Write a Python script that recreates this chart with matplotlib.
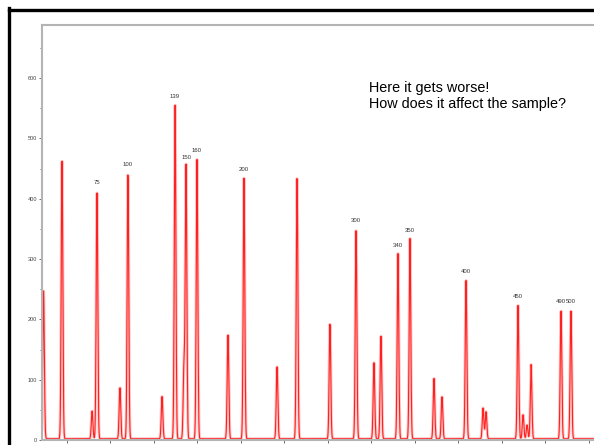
import numpy as np
import matplotlib
matplotlib.use("Agg")
import matplotlib.pyplot as plt
from matplotlib.lines import Line2D

# Electropherogram peaks: scan position and fluorescence height
peak_pos = [1618, 1724, 1897, 1925, 2057, 2103, 2299, 2374, 2425,
            2437, 2500, 2678, 2770, 2960, 3075, 3264, 3414, 3517, 3557,
            3655, 3724, 3862, 3908, 4046, 4144, 4161, 4345, 4374, 4397,
            4420, 4592, 4649]
peak_height = [245, 463, 46, 410, 85, 440, 70, 553, 120,
               452, 463, 173, 432, 120, 434, 191, 347, 126, 171,
               307, 332, 100, 70, 264, 51, 45, 221, 40, 23,
               123, 213, 213]

# Size-standard labels (bp) placed over their peaks
size_labels = ["75", "100", "139", "150", "160", "200", "300", "340",
               "350", "400", "450", "490", "500"]
size_label_pos = [1925, 2103, 2374, 2437, 2500, 2770, 3414, 3655,
                  3724, 4046, 4345, 4592, 4649]
size_label_height = [410, 440, 553, 452, 463, 432, 347, 307,
                     332, 264, 221, 213, 213]

x_ticks = [2000, 2500, 3000, 3500, 4000, 4500]
y_ticks = [0, 100, 200, 300, 400, 500, 600]

W, H = 594, 445
fig = plt.figure(figsize=(W / 100, H / 100), dpi=100)
ax = fig.add_axes([42 / W, 5 / H, (600 - 42) / W, 415 / H])

# Build the trace as a sum of narrow peaks on a flat baseline
x = np.arange(1600, 4830, 1.5)
y = np.full_like(x, 2.0)
sigma = 4.5
for p, h in zip(peak_pos, peak_height):
    y += h * np.exp(-0.5 * ((x - p) / sigma) ** 2)

ax.plot(x, y, color="#ff9999", lw=2.2, alpha=0.55, solid_joinstyle="round")
ax.plot(x, y, color="#ff2020", lw=0.8)

for lab, p, h in zip(size_labels, size_label_pos, size_label_height):
    ax.annotate(lab, (p, h), xytext=(0, 7), textcoords="offset points",
                ha="center", va="center", fontsize=4.3, color="#333333",
                family="Liberation Sans")

ax.set_xlim(1609, 4816)
ax.set_ylim(0, 688)
ax.set_xticks(x_ticks)
ax.set_xticks([t + 250 for t in x_ticks[:-1]] + [1750, 4750], minor=True)
ax.set_yticks(y_ticks)
ax.set_yticks([50, 150, 250, 350, 450, 550, 650], minor=True)
ax.set_xticklabels([str(t) for t in x_ticks])
ax.set_yticklabels([str(t) for t in y_ticks])

for side in ["left", "top", "bottom"]:
    ax.spines[side].set_color("#b4b4b4")
    ax.spines[side].set_linewidth(1.5)
ax.spines["right"].set_visible(False)
ax.tick_params(axis="both", which="both", direction="out", color="#555555",
               width=0.6, labelsize=4, labelcolor="#444444", pad=1)
ax.tick_params(which="major", length=2.5)
ax.tick_params(which="minor", length=1.8)
for lbl in ax.get_xticklabels() + ax.get_yticklabels():
    lbl.set_family("Liberation Sans")

fig.text(369 / W, 1 - 96 / H, "Here it gets worse!\nHow does it affect the sample?",
         fontsize=10.4, family="Liberation Sans", color="black",
         ha="left", va="center", linespacing=1.1)

# Black slide frame along the left and top edges
fig.add_artist(Line2D([8.5 / W, 8.5 / W], [0, 1 - 8 / H], transform=fig.transFigure,
                      color="black", lw=2.4, solid_capstyle="projecting"))
fig.add_artist(Line2D([8.5 / W, 1.0], [1 - 9.5 / H, 1 - 9.5 / H], transform=fig.transFigure,
                      color="black", lw=2.4, solid_capstyle="projecting"))

fig.savefig("out.png", dpi=100)
